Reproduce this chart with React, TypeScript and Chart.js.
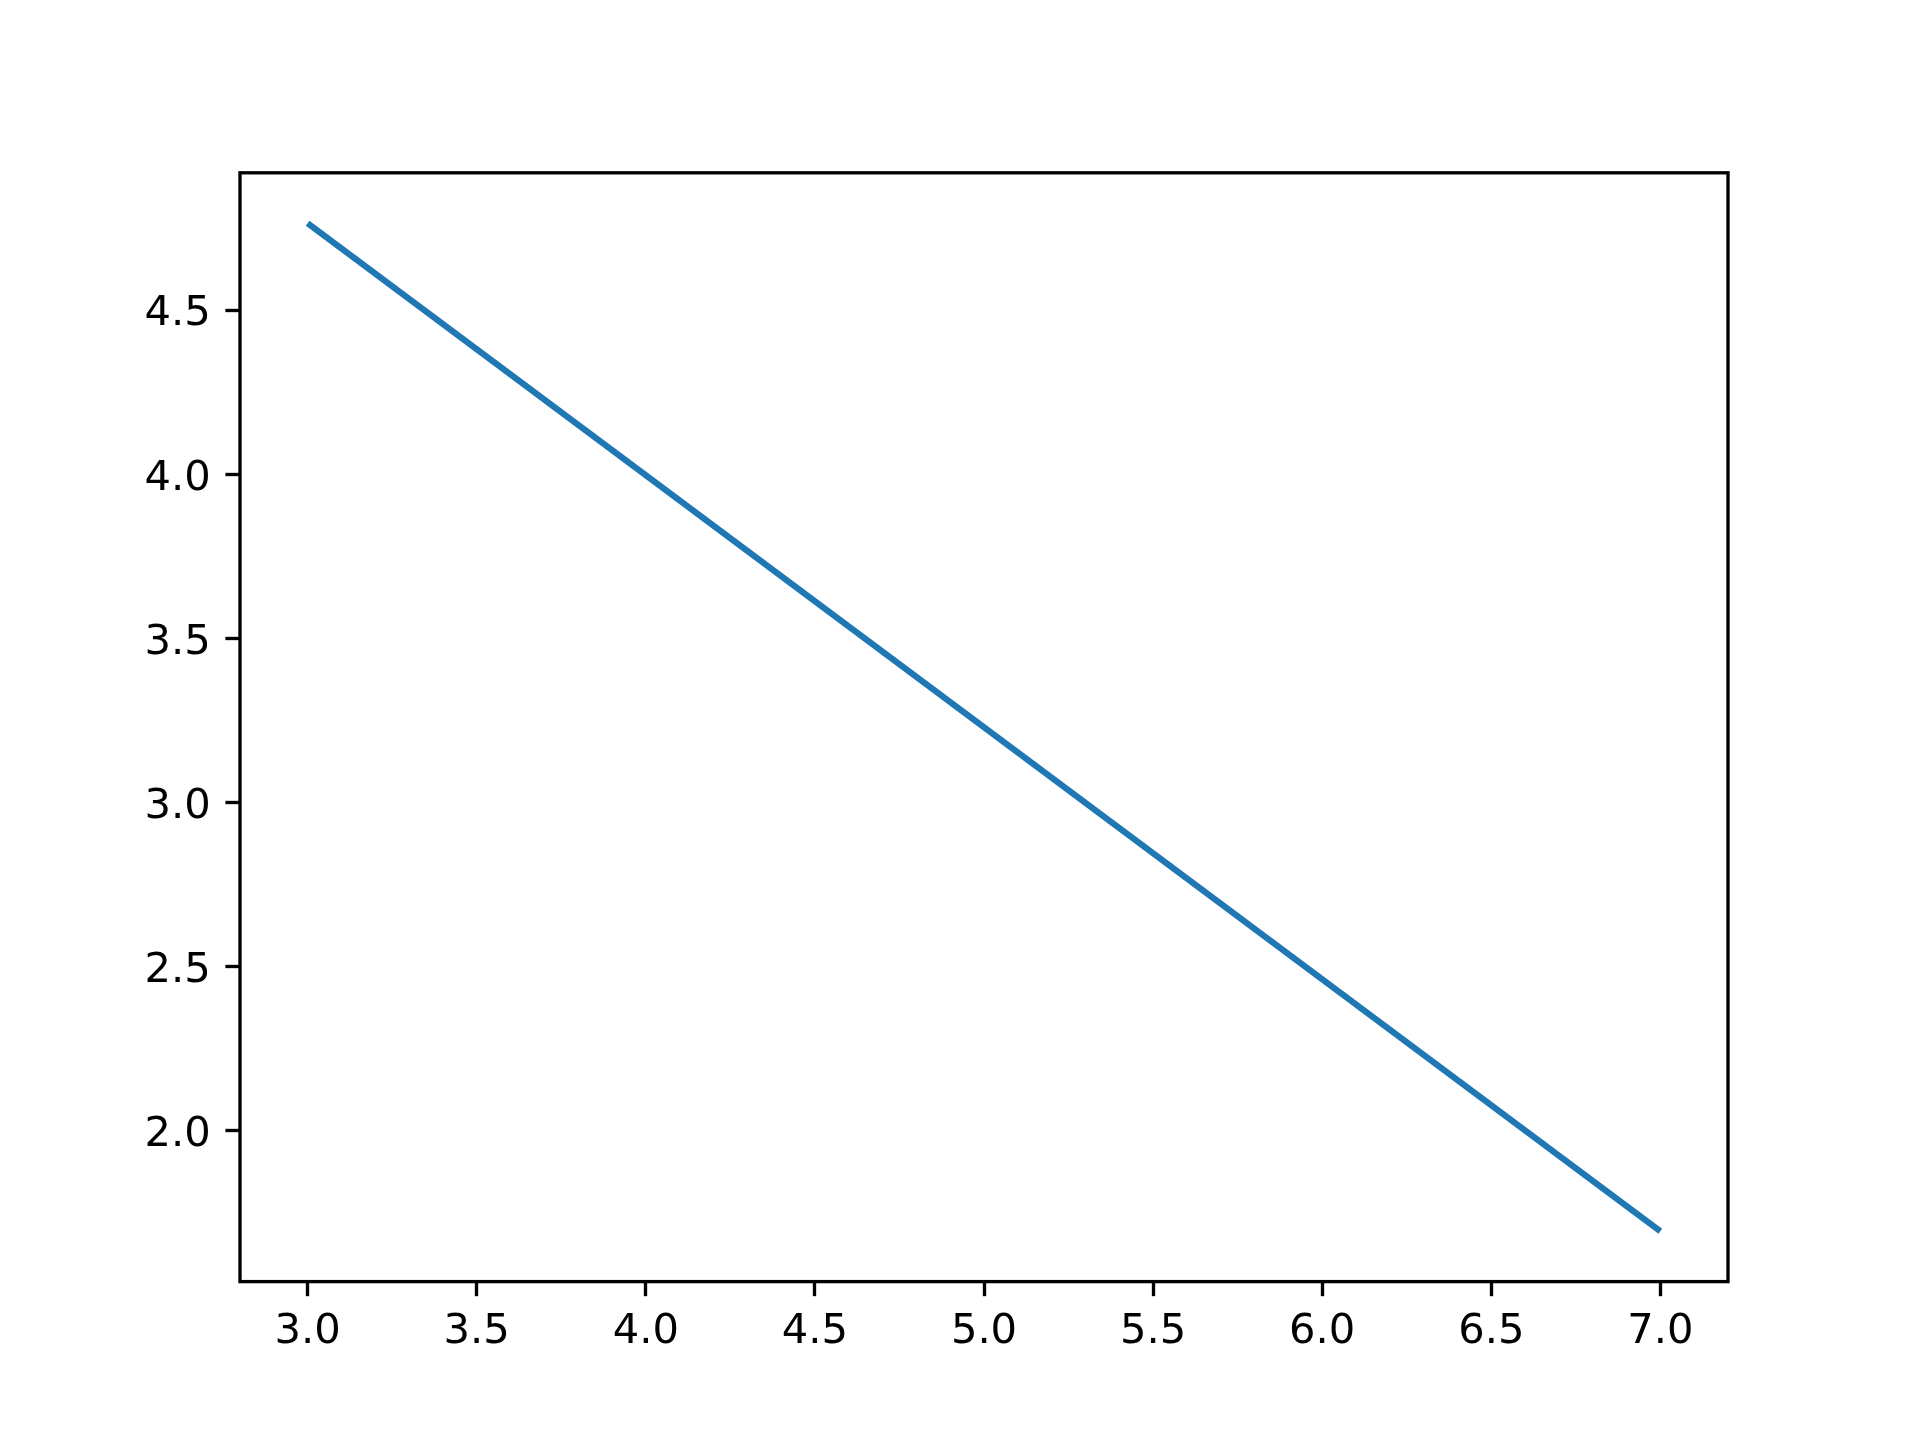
import React, { useEffect, useRef } from "react";
import { Chart, registerables } from "chart.js";

Chart.register(...registerables);

const X_VALUES = [3, 7];
const Y_VALUES = [4.765, 1.694];
const X_TICKS = [3.0, 3.5, 4.0, 4.5, 5.0, 5.5, 6.0, 6.5, 7.0];
const Y_TICKS = [2.0, 2.5, 3.0, 3.5, 4.0, 4.5];

const W = 1920;
const H = 1440;
const AREA = { left: 240, right: 1728, top: 172.8, bottom: 1281.6 };
const PT = 300 / 72;

function pad(lo: number, hi: number) {
  const d = hi - lo;
  return [lo - 0.05 * d, hi + 0.05 * d];
}

export default function App() {
  const ref = useRef<HTMLCanvasElement | null>(null);

  useEffect(() => {
    document.body.style.margin = "0";
    const canvas = ref.current!;
    const [xmin, xmax] = pad(Math.min(...X_VALUES), Math.max(...X_VALUES));
    const [ymin, ymax] = pad(Math.min(...Y_VALUES), Math.max(...Y_VALUES));
    const fontSize = 10 * PT;
    const font = { family: "DejaVu Sans", size: fontSize };

    const frame = {
      id: "frame",
      afterDraw(chart: any) {
        const { ctx, chartArea: a } = chart;
        ctx.save();
        ctx.strokeStyle = "#000";
        ctx.lineWidth = 0.8 * PT;
        ctx.lineJoin = "miter";
        ctx.strokeRect(a.left, a.top, a.right - a.left, a.bottom - a.top);
        // y tick labels, matplotlib-style center_baseline alignment
        const ys = chart.scales.y;
        ctx.fillStyle = "#000";
        ctx.font = `${fontSize}px "DejaVu Sans"`;
        ctx.textAlign = "right";
        ctx.textBaseline = "alphabetic";
        const xr = a.left - 3.5 * PT - 3.5 * PT;
        Y_TICKS.forEach((v) => {
          const py = ys.getPixelForValue(v);
          ctx.fillText(v.toFixed(1), xr, py + 0.365 * fontSize);
        });
        ctx.restore();
      },
    };

    const chart = new Chart(canvas, {
      type: "scatter",
      data: {
        datasets: [
          {
            data: X_VALUES.map((x, i) => ({ x, y: Y_VALUES[i] })),
            showLine: true,
            borderColor: "#1f77b4",
            backgroundColor: "#1f77b4",
            borderWidth: 1.5 * PT,
            pointRadius: 0,
            borderCapStyle: "butt",
          },
        ],
      },
      options: {
        animation: false,
        responsive: false,
        devicePixelRatio: 1,
        layout: {
          padding: { left: 0, top: AREA.top, right: W - AREA.right, bottom: 0 },
        },
        plugins: { legend: { display: false }, tooltip: { enabled: false } },
        scales: {
          x: {
            type: "linear",
            min: xmin,
            max: xmax,
            afterFit(s: any) {
              s.height = H - AREA.bottom;
            },
            afterBuildTicks(s: any) {
              s.ticks = X_TICKS.map((v) => ({ value: v }));
            },
            grid: {
              drawOnChartArea: false,
              drawTicks: true,
              tickLength: 3.5 * PT,
              tickWidth: 0.8 * PT,
              tickColor: "#000",
            },
            border: { display: false },
            ticks: {
              color: "#000",
              font,
              padding: 3.5 * PT - 4,
              maxRotation: 0,
              autoSkip: false,
              callback: (v: any) => Number(v).toFixed(1),
            },
          },
          y: {
            type: "linear",
            min: ymin,
            max: ymax,
            afterFit(s: any) {
              s.width = AREA.left;
            },
            afterBuildTicks(s: any) {
              s.ticks = Y_TICKS.map((v) => ({ value: v }));
            },
            grid: {
              drawOnChartArea: false,
              drawTicks: true,
              tickLength: 3.5 * PT,
              tickWidth: 0.8 * PT,
              tickColor: "#000",
            },
            border: { display: false },
            ticks: {
              display: false,
              autoSkip: false,
            },
          },
        },
      },
      plugins: [frame],
    } as any);

    return () => chart.destroy();
  }, []);

  return <canvas ref={ref} width={W} height={H} style={{ display: "block", width: W, height: H }} />;
}
